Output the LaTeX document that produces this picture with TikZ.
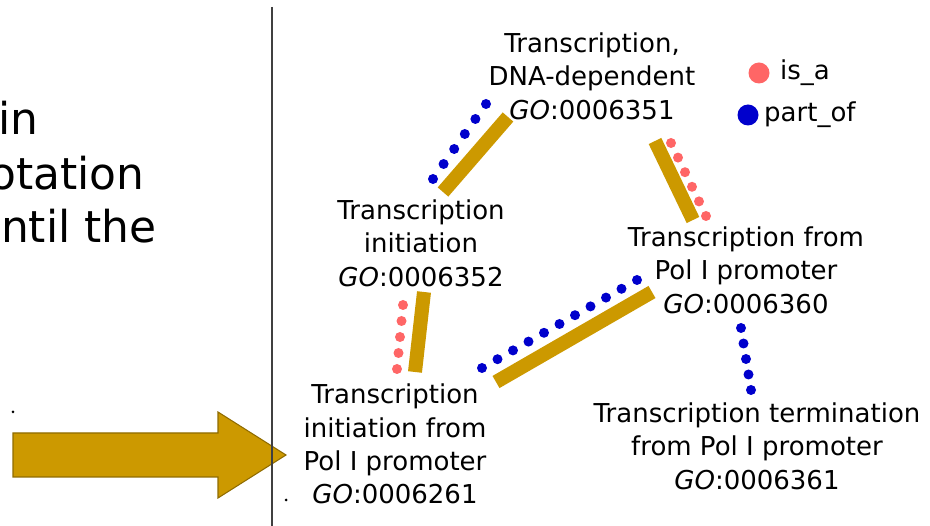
\documentclass[tikz,border=0pt]{standalone}
\usepackage{fontspec}
\setmainfont{DejaVu Sans}
\usetikzlibrary{positioning,calc}
\definecolor{gold}{HTML}{CC9900}
\definecolor{isa}{HTML}{FF6666}
\definecolor{partof}{HTML}{0000CC}
\newcommand{\reldots}[4]{%
  \foreach \k in {0,...,#3} \fill[#4] ($(#1)!{\k/#3}!(#2)$) circle[radius=0.1cm];}

\begin{document}
\begin{tikzpicture}
   [x=0.02cm,y=-0.02cm,
      term/.style={align=center,inner sep=0pt,
      font=\fontsize{14.8}{19}\selectfont},
lbl/.style={inner sep=0pt,font=\fontsize{14.8}{19}\selectfont},
slide/.style={anchor=base east,inner sep=0pt,font=\fontsize{25}{31}\selectfont},
key/.style={circle,inner sep=0pt,minimum size=0.42cm},
bar/.style={line width=0.28cm,gold},
isadot/.style={fill=isa},
partdot/.style={fill=partof}]
\useasboundingbox (0,0) rectangle (930,526);
\clip (0,0) rectangle (930,526);
%%
%% left side of the slide
\node (w1) [slide] at (39,135) {in};
\node (w2) [slide] at (145,190) {otation};
\node (w3) [slide] at (157,243) {ntil the};
\fill (13,412) circle[radius=0.03cm];
\fill (286,500) circle[radius=0.03cm];
\draw[gold!70!black,fill=gold,line width=0.6pt]
  (13,433) -- (218,433) -- (218,412) -- (286,455) -- (218,498)
  -- (218,477) -- (13,477) -- cycle;
\draw[black!75,line width=1.4pt] (272,7) -- (272,526);
%%
%% GO terms
\node (dna) [term] at (592,76) {Transcription,\\DNA-dependent\\\textit{GO}:0006351};
\node (init) [term] at (421,243) {Transcription\\initiation\\\textit{GO}:0006352};
\node (polinit) [term] at (395,444) {Transcription\\initiation from\\Pol I promoter\\\textit{GO}:0006261};
\node (polfrom) [term] at (746,270) {Transcription from\\Pol I promoter\\\textit{GO}:0006360};
\node (polterm) [term] at (757,446) {Transcription termination\\from Pol I promoter\\\textit{GO}:0006361};
%%
%% legend
\node (kisa) [key,fill=isa] at (759,73) {};
\node (kpart) [key,fill=partof] at (748,115) {};
\node [lbl,right=0.2cm of kisa] {is\_a};
\node [lbl,right=0.1cm of kpart] {part\_of};
%%
%% ends of the relations
\coordinate (dna-init-a) at (508,117);  \coordinate (dna-init-b) at (443,192);
\coordinate (dna-init-c) at (486,104);  \coordinate (dna-init-d) at (433,179);
\coordinate (dna-from-a) at (655,141);  \coordinate (dna-from-b) at (693,220);
\coordinate (dna-from-c) at (671,143);  \coordinate (dna-from-d) at (706,216);
\coordinate (init-pol-a) at (424,292);  \coordinate (init-pol-b) at (415,372);
\coordinate (init-pol-c) at (403,305);  \coordinate (init-pol-d) at (397,369);
\coordinate (pol-from-a) at (496,382);  \coordinate (pol-from-b) at (652,292);
\coordinate (pol-from-c) at (482,368);  \coordinate (pol-from-d) at (637,280);
\coordinate (from-term-c) at (741,328); \coordinate (from-term-d) at (751,390);
%%
\draw[bar] (dna-init-a) -- (dna-init-b);
\draw[bar] (dna-from-a) -- (dna-from-b);
\draw[bar] (init-pol-a) -- (init-pol-b);
\draw[bar] (pol-from-a) -- (pol-from-b);
%%
\reldots{dna-init-c}{dna-init-d}{5}{partdot}
\reldots{dna-from-c}{dna-from-d}{5}{isadot}
\reldots{init-pol-c}{init-pol-d}{4}{isadot}
\reldots{pol-from-c}{pol-from-d}{10}{partdot}
\reldots{from-term-c}{from-term-d}{4}{partdot}
\end{tikzpicture}
\end{document}
